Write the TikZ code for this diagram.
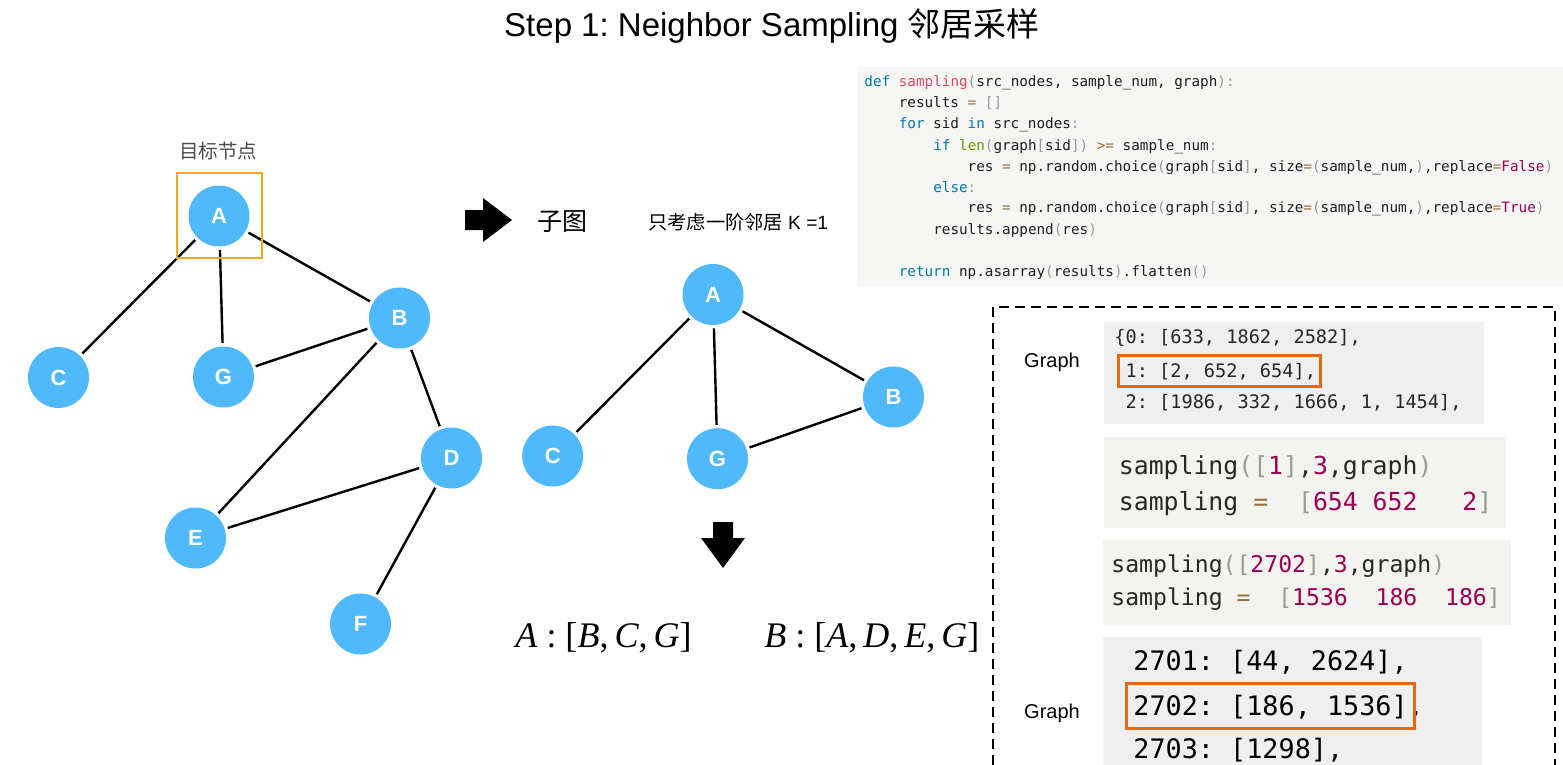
\documentclass[tikz,border=0pt]{standalone}
\usepackage{fontspec}
\setmainfont{Liberation Sans}
\newfontfamily\cjk{Noto Sans CJK SC}
\newfontfamily\codefont{DejaVu Sans Mono}
\newfontfamily\timesfont{Liberation Serif}
\definecolor{nodeblue}{RGB}{80,185,252}
\definecolor{targetorange}{RGB}{245,166,35}
\definecolor{hlorange}{RGB}{232,104,14}
\definecolor{codebg}{RGB}{246,246,244}
\definecolor{boxa}{RGB}{239,239,239}
\definecolor{boxb}{RGB}{243,243,239}
\definecolor{kwc}{RGB}{0,119,170}
\definecolor{fnc}{RGB}{221,74,104}
\definecolor{bic}{RGB}{102,153,0}
\definecolor{opc}{RGB}{154,110,58}
\definecolor{puc}{RGB}{153,153,153}
\definecolor{boc}{RGB}{153,0,85}
\definecolor{txc}{RGB}{30,30,30}
\newcommand\ckw[1]{\textcolor{kwc}{#1}}
\newcommand\cfn[1]{\textcolor{fnc}{#1}}
\newcommand\cbi[1]{\textcolor{bic}{#1}}
\newcommand\cop[1]{\textcolor{opc}{#1}}
\newcommand\cpu[1]{\textcolor{puc}{#1}}
\newcommand\cbo[1]{\textcolor{boc}{#1}}
\begin{document}
\frenchspacing
\begin{tikzpicture}[x=0.5pt,y=-0.5pt,
  gnode/.style={circle, fill=nodeblue, minimum size=30.5pt, inner sep=0pt, text=white, font=\bfseries\fontsize{11}{13}\selectfont},
  edge/.style={line width=1.2pt, shorten <=1.5pt, shorten >=1.5pt},
  codeline/.style={anchor=base west, inner sep=0pt, text=txc, font=\codefont\fontsize{7.15}{10}\selectfont},
  boxcode/.style={anchor=base west, inner sep=0pt, text=black!85, font=\codefont},
  glabel/.style={font=\fontsize{10}{12}\selectfont, inner sep=0pt},
  formula/.style={anchor=base west, inner sep=0pt, font=\timesfont\fontsize{18}{22}\selectfont},
  hlbox/.style={draw=hlorange, line width=1.5pt},
  blockarrow/.style={fill=black}
]
\useasboundingbox (0,0) rectangle (1563,765);

% title
\node[anchor=base, inner sep=0pt, font=\fontsize{16.5}{20}\selectfont] (title) at (772,37) {Step 1: Neighbor Sampling {\cjk 邻居采样}};

% left graph
\node[gnode] (A) at (219,216) {A};
\node[gnode] (C) at (58.5,377.5) {C};
\node[gnode] (G) at (223.5,377) {G};
\node[gnode] (B) at (399.5,318) {B};
\node[gnode] (D) at (451.5,458) {D};
\node[gnode] (E) at (195.5,538) {E};
\node[gnode] (F) at (360.5,624) {F};
\draw[edge] (A) -- (C);
\draw[edge] (A) -- (G);
\draw[edge] (A) -- (B);
\draw[edge] (B) -- (G);
\draw[edge] (B) -- (E);
\draw[edge] (B) -- (D);
\draw[edge] (D) -- (E);
\draw[edge] (D) -- (F);
\node[draw=targetorange, line width=1pt, minimum width=42.5pt, minimum height=42.5pt, inner sep=0pt] (tbox) at (219,215.5) {};
\node[font=\cjk\fontsize{9.75}{12}\selectfont, text=black!70, inner sep=0pt] (tlabel) at (218,151) {目标节点};

% right arrow and labels
\fill[blockarrow] (465,210) -- (483,210) -- (483,198) -- (512,220) -- (483,242) -- (483,230) -- (465,230) -- cycle;
\node[font=\cjk\fontsize{12.5}{14}\selectfont, inner sep=0pt] (sub) at (562,222) {子图};
\node[anchor=west, inner sep=0pt, font=\fontsize{9.6}{11}\selectfont] (k1) at (648,222) {{\cjk 只考虑一阶邻居} K =1};

% sub graph
\node[gnode] (A2) at (713,294.5) {A};
\node[gnode] (B2) at (893.5,397) {B};
\node[gnode] (C2) at (552.7,456) {C};
\node[gnode] (G2) at (717.5,458.7) {G};
\draw[edge] (A2) -- (C2);
\draw[edge] (A2) -- (G2);
\draw[edge] (A2) -- (B2);
\draw[edge] (G2) -- (B2);

% down arrow
\fill[blockarrow] (713,522) -- (733,522) -- (733,538) -- (745,538) -- (723,568) -- (701,538) -- (713,538) -- cycle;

% formulas
\node[formula] (fa) at (515,647) {\textit{A} : [\textit{B},\,\textit{C},\,\textit{G}]};
\node[formula] (fb) at (764,647) {\textit{B} : [\textit{A},\,\textit{D},\,\textit{E},\,\textit{G}]};

% code block
\fill[codebg] (857,67) rectangle (1563,286);
\node[codeline] (l0) at (864,87) {\ckw{def} \cfn{sampling}\cpu{(}src\_nodes, sample\_num, graph\cpu{):}};
\node[codeline] (l1) at (898.4,108) {results \cop{=} \cpu{[]}};
\node[codeline] (l2) at (898.4,129) {\ckw{for} sid \ckw{in} src\_nodes\cpu{:}};
\node[codeline] (l3) at (932.9,150) {\ckw{if} \cbi{len}\cpu{(}graph\cpu{[}sid\cpu{])} \cop{>=} sample\_num\cpu{:}};
\node[codeline] (l4) at (967.3,171) {res \cop{=} np.random.choice\cpu{(}graph\cpu{[}sid\cpu{]}, size\cop{=}\cpu{(}sample\_num,\cpu{)},replace\cop{=}\cbo{False}\cpu{)}};
\node[codeline] (l5) at (932.9,192) {\ckw{else}\cpu{:}};
\node[codeline] (l6) at (967.3,213) {res \cop{=} np.random.choice\cpu{(}graph\cpu{[}sid\cpu{]}, size\cop{=}\cpu{(}sample\_num,\cpu{)},replace\cop{=}\cbo{True}\cpu{)}};
\node[codeline] (l7) at (932.9,234) {results.append\cpu{(}res\cpu{)}};
\node[codeline] (l9) at (898.4,276) {\ckw{return} np.asarray\cpu{(}results\cpu{)}.flatten\cpu{()}};

% dashed panel
\draw[line width=0.8pt, dash pattern=on 5pt off 3pt] (993,765) -- (993,307) -- (1555,307) -- (1555,765);

\node[glabel] (g1) at (1052,362) {Graph};
\node[glabel] (g2) at (1052,713) {Graph};

% box 1
\fill[boxa] (1104,322) rectangle (1484,424);
\node[boxcode, font=\codefont\fontsize{9.3}{11}\selectfont] (b1a) at (1114,343.5) {\{0: [633, 1862, 2582],};
\node[boxcode, font=\codefont\fontsize{9.3}{11}\selectfont] (b1b) at (1114,377) {~1: [2, 652, 654],};
\node[boxcode, font=\codefont\fontsize{9.3}{11}\selectfont] (b1c) at (1114,408.5) {~2: [1986, 332, 1666, 1, 1454],};
\draw[hlbox] (1118,355) rectangle (1320,386);

% box 2
\fill[boxb] (1104,437) rectangle (1506,528);
\node[boxcode, font=\codefont\fontsize{12.4}{14}\selectfont] (b2a) at (1118.5,474) {sampling\cpu{([}\cbo{1}\cpu{]},\cbo{3},graph\cpu{)}};
\node[boxcode, font=\codefont\fontsize{12.4}{14}\selectfont] (b2b) at (1118.5,510.5) {sampling \cop{=}~~\cpu{[}\cbo{654~652~~~2}\cpu{]}};

% box 3
\fill[boxb] (1103,540) rectangle (1511,625);
\node[boxcode, font=\codefont\fontsize{11.55}{13}\selectfont] (b3a) at (1111,572) {sampling\cpu{([}\cbo{2702}\cpu{]},\cbo{3},graph\cpu{)}};
\node[boxcode, font=\codefont\fontsize{11.55}{13}\selectfont] (b3b) at (1111,605.5) {sampling \cop{=}~~\cpu{[}\cbo{1536~~186~~186}\cpu{]}};

% box 4
\fill[boxa] (1103,637) rectangle (1482,765);
\node[boxcode, text=black, font=\codefont\fontsize{13.4}{15}\selectfont] (b4a) at (1133,670) {2701: [44, 2624],};
\node[boxcode, text=black, font=\codefont\fontsize{13.4}{15}\selectfont] (b4b) at (1133,715) {2702: [186, 1536],};
\node[boxcode, text=black, font=\codefont\fontsize{13.4}{15}\selectfont] (b4c) at (1133,758) {2703: [1298],};
\draw[hlbox] (1126.5,683.5) rectangle (1414,728);
\end{tikzpicture}
\end{document}
